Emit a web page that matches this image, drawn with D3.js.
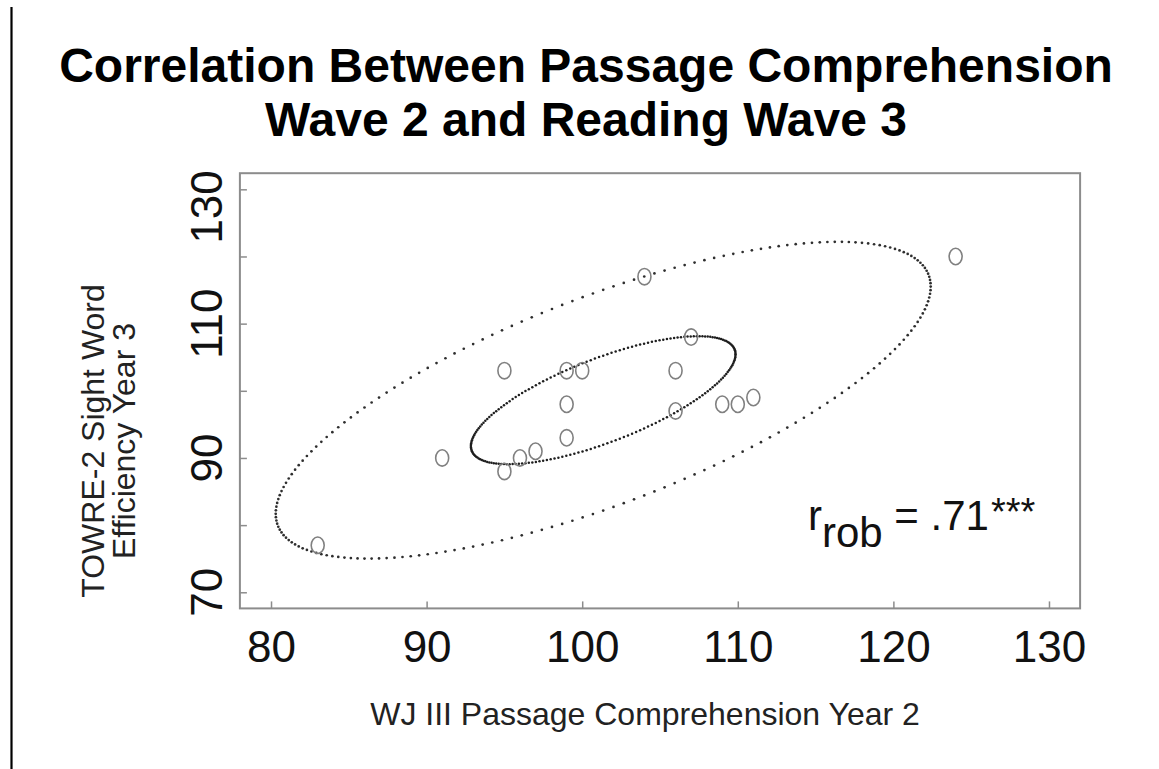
<!DOCTYPE html>
<html>
<head>
<meta charset="utf-8">
<script src="https://cdn.jsdelivr.net/npm/d3@7/dist/d3.min.js"></script>
<style>
  html, body { margin: 0; padding: 0; background: #fff; }
  svg { display: block; }
  text { font-family: "Liberation Sans", Arial, Helvetica, sans-serif; }
</style>
</head>
<body>
<svg id="chart" width="1159" height="769"></svg>
<script>
// ---- data ----
const xValues = [83, 91, 95, 95, 96, 97, 99, 99, 99, 100, 104, 106, 106, 107, 109, 110, 111, 124];
const yValues = [77, 90, 88, 103, 90, 91, 93, 98, 103, 103, 117, 103, 97, 108, 98, 98, 99, 120];
const xTicks = [80, 90, 100, 110, 120, 130];
const yTicks = [70, 80, 90, 100, 110, 120, 130];
const yTickLabels = [70, 90, 110, 130];
const ellipseCenter = [101.35, 98.6];
const ellipseShape = [[443, 356], [356, 556]];
const ellipseScales = [1, 0.404];
const ellipseSegments = 200;
const titleLines = ["Correlation Between Passage Comprehension", "Wave 2 and Reading Wave 3"];
const xTitle = "WJ III Passage Comprehension Year 2";
const yTitleLines = ["TOWRE-2 Sight Word", "Efficiency Year 3"];

// ---- layout ----
const svg = d3.select("#chart");
svg.append("rect").attr("width", 1159).attr("height", 769).attr("fill", "#fff");

const x = d3.scaleLinear().domain([78, 132]).range([239.9, 1080.1]);
const y = d3.scaleLinear().domain([67.6, 132.4]).range([608.4, 173.2]);

// left page rule
svg.append("line").attr("x1", 11.5).attr("x2", 11.5).attr("y1", 7).attr("y2", 769)
  .attr("stroke", "#000").attr("stroke-width", 2.2);

// title
svg.append("g").selectAll("text").data(titleLines).join("text")
  .attr("x", 586).attr("y", (d, i) => 82 + i * 54)
  .attr("text-anchor", "middle").attr("font-size", 48).attr("font-weight", "bold")
  .attr("fill", "#000").text(d => d);

// box
const [x0, x1] = x.range();
const [y0, y1] = y.range();
svg.append("rect").attr("x", x0).attr("y", y1).attr("width", x1 - x0).attr("height", y0 - y1)
  .attr("fill", "none").attr("stroke", "#8c8c8c").attr("stroke-width", 2);

// axes (ticks inward)
const gx = svg.append("g").attr("transform", `translate(0,${y0})`)
  .call(d3.axisBottom(x).tickValues(xTicks).tickSizeInner(-7).tickSizeOuter(0).tickPadding(22));
gx.select(".domain").remove();
gx.selectAll(".tick line").attr("stroke", "#8c8c8c").attr("stroke-width", 1.5);
gx.selectAll(".tick text").attr("font-size", 44).attr("fill", "#111")
  .attr("font-family", "'Liberation Sans', Arial, sans-serif").attr("dy", "0.71em");

const gy = svg.append("g").attr("transform", `translate(${x0},0)`)
  .call(d3.axisLeft(y).tickValues(yTicks).tickSizeInner(-7).tickSizeOuter(0).tickFormat(""));
gy.select(".domain").remove();
gy.selectAll(".tick line").attr("stroke", "#8c8c8c").attr("stroke-width", 1.5);

// rotated y tick labels, kept inside the vertical extent of the plot box
const yLab = svg.append("g").selectAll("text").data(yTickLabels).join("text")
  .attr("text-anchor", "middle").attr("font-size", 44).attr("fill", "#111")
  .text(d => d);
yLab.attr("transform", function(d) {
  const half = this.getComputedTextLength() / 2;
  const cy = Math.max(y(d), y1 + half - 3);
  return `translate(222,${cy}) rotate(-90)`;
});

// axis titles
svg.append("text").attr("x", 645).attr("y", 725).attr("text-anchor", "middle")
  .attr("font-size", 32).attr("fill", "#222").text(xTitle);
svg.append("g").selectAll("text").data(yTitleLines).join("text")
  .attr("transform", (d, i) => `translate(${104 + i * 31},441) rotate(-90)`)
  .attr("text-anchor", "middle").attr("font-size", 32).attr("fill", "#222").text(d => d);

// ellipses as dotted point sequences (Cholesky parametrisation)
const a = Math.sqrt(ellipseShape[0][0]);
const b = ellipseShape[0][1] / a;
const dd = Math.sqrt(ellipseShape[1][1] - b * b);
const ts = d3.range(ellipseSegments).map(i => 2 * Math.PI * i / ellipseSegments);
ellipseScales.forEach((s, k) => {
  const pts = ts.map(t => [
    ellipseCenter[0] + s * a * Math.cos(t),
    ellipseCenter[1] + s * (b * Math.cos(t) + dd * Math.sin(t))
  ]);
  svg.append("g").selectAll("circle").data(pts).join("circle")
    .attr("cx", p => x(p[0])).attr("cy", p => y(p[1]))
    .attr("r", k === 0 ? 1.35 : 1.25).attr("fill", k === 0 ? "#2e2e2e" : "#1e1e1e");
});

// points
svg.append("g").selectAll("ellipse").data(xValues.map((v, i) => [v, yValues[i]])).join("ellipse")
  .attr("cx", d => x(d[0])).attr("cy", d => y(d[1]))
  .attr("rx", 6.5).attr("ry", 8.2)
  .attr("fill", "none").attr("stroke", "#808080").attr("stroke-width", 1.6);

// annotation r_rob = .71***
const ann = svg.append("text").attr("x", 808).attr("y", 530).attr("font-size", 42).attr("fill", "#111");
ann.append("tspan").text("r");
ann.append("tspan").attr("dy", 17).text("rob");
ann.append("tspan").attr("dy", -17).text(" = .71");
ann.append("tspan").attr("dy", -5).attr("dx", 2).attr("font-size", 38).text("***");
</script>
</body>
</html>
